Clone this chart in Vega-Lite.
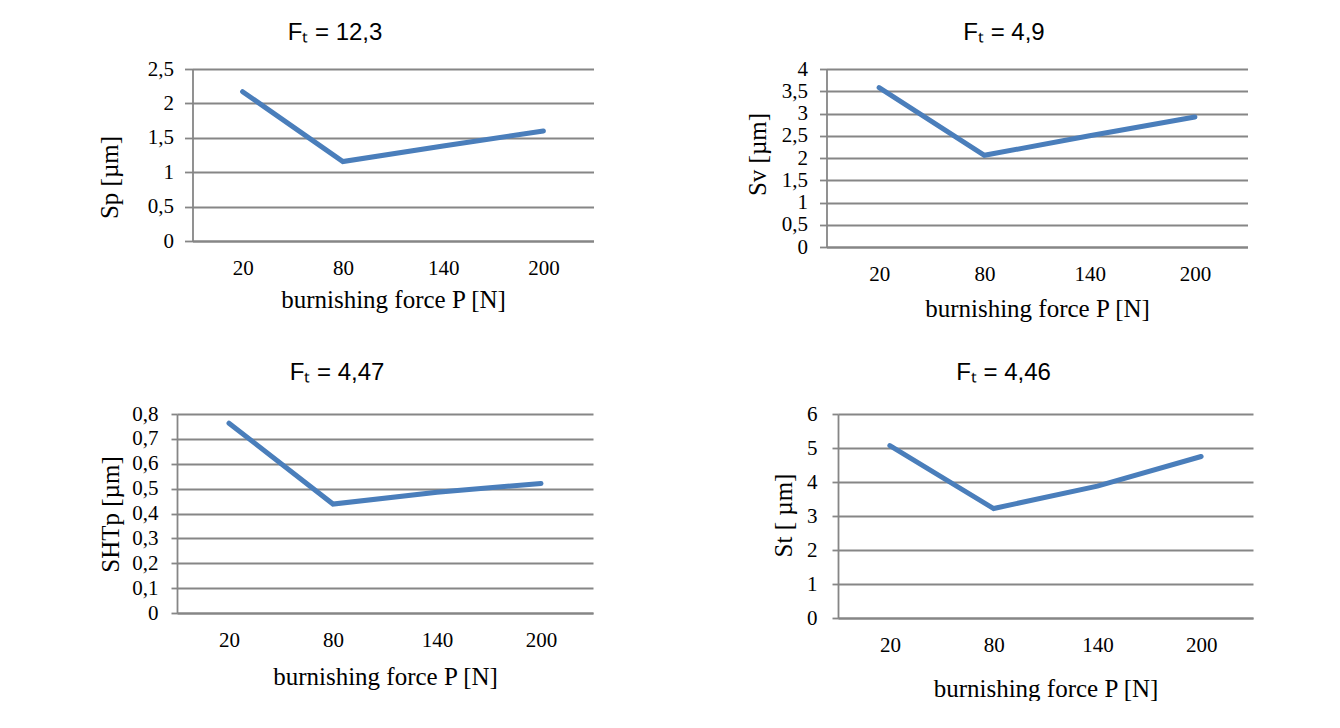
{
  "$schema": "https://vega.github.io/schema/vega-lite/v6.json",
  "padding": {"left": 65, "top": 21, "right": 0, "bottom": 0},
  "background": "white",
  "data": {"values": [
    {"panel": "Sp", "P": 20, "v": 2.17},
    {"panel": "Sp", "P": 80, "v": 1.155},
    {"panel": "Sp", "P": 140, "v": 1.38},
    {"panel": "Sp", "P": 200, "v": 1.6},
    {"panel": "Sv", "P": 20, "v": 3.58},
    {"panel": "Sv", "P": 80, "v": 2.06},
    {"panel": "Sv", "P": 140, "v": 2.5},
    {"panel": "Sv", "P": 200, "v": 2.92},
    {"panel": "SHTp", "P": 20, "v": 0.763},
    {"panel": "SHTp", "P": 80, "v": 0.438},
    {"panel": "SHTp", "P": 140, "v": 0.485},
    {"panel": "SHTp", "P": 200, "v": 0.521},
    {"panel": "St", "P": 20, "v": 5.07},
    {"panel": "St", "P": 80, "v": 3.22},
    {"panel": "St", "P": 140, "v": 3.88},
    {"panel": "St", "P": 200, "v": 4.75}
  ]},
  "spacing": 40,
  "center": true,
  "vconcat": [
    {
      "spacing": 20,
      "hconcat": [
        {
          "width": 401, "height": 172,
          "title": {"text": "Fₜ = 12,3", "dx": -58, "offset": 13, "fontSize": 24},
          "transform": [{"filter": "datum.panel === 'Sp'"}],
          "mark": {"type": "line", "color": "#4A7EBB", "strokeWidth": 5, "strokeCap": "round"},
          "encoding": {
            "x": {"field": "P", "type": "ordinal", "scale": {"type": "point", "padding": 0.5, "domain": [20, 80, 140, 200]},
                  "axis": {"title": "burnishing force P [N]", "labelPadding": 16, "titlePadding": 9}},
            "y": {"field": "v", "type": "quantitative", "scale": {"domain": [0, 2.5], "nice": false},
                  "axis": {"title": "Sp [µm]", "values": [0, 0.5, 1, 1.5, 2, 2.5], "tickSize": 8, "labelPadding": 11, "minExtent": 100, "titleX": -70, "titleY": 108}}
          }
        },
        {
          "width": 421, "height": 178,
          "title": {"text": "Fₜ = 4,9", "dx": -33, "offset": 13, "fontSize": 24},
          "transform": [{"filter": "datum.panel === 'Sv'"}],
          "mark": {"type": "line", "color": "#4A7EBB", "strokeWidth": 5, "strokeCap": "round"},
          "encoding": {
            "x": {"field": "P", "type": "ordinal", "scale": {"type": "point", "padding": 0.5, "domain": [20, 80, 140, 200]},
                  "axis": {"title": "burnishing force P [N]", "labelPadding": 16, "titlePadding": 12}},
            "y": {"field": "v", "type": "quantitative", "scale": {"domain": [0, 4], "nice": false},
                  "axis": {"title": "Sv [µm]", "values": [0, 0.5, 1, 1.5, 2, 2.5, 3, 3.5, 4], "tickSize": 7, "labelPadding": 12, "minExtent": 213, "titleX": -56, "titleY": 85}}
          }
        }
      ]
    },
    {
      "spacing": 20,
      "hconcat": [
        {
          "width": 416, "height": 199,
          "title": {"text": "Fₜ = 4,47", "dx": -48, "offset": 18, "fontSize": 24},
          "transform": [{"filter": "datum.panel === 'SHTp'"}],
          "mark": {"type": "line", "color": "#4A7EBB", "strokeWidth": 5, "strokeCap": "round"},
          "encoding": {
            "x": {"field": "P", "type": "ordinal", "scale": {"type": "point", "padding": 0.5, "domain": [20, 80, 140, 200]},
                  "axis": {"title": "burnishing force P [N]", "labelPadding": 16, "titlePadding": 14}},
            "y": {"field": "v", "type": "quantitative", "scale": {"domain": [0, 0.8], "nice": false},
                  "axis": {"title": "SHTp [µm]", "values": [0, 0.1, 0.2, 0.3, 0.4, 0.5, 0.6, 0.7, 0.8], "tickSize": 6, "labelPadding": 13, "minExtent": 112, "titleX": -54, "titleY": 100}}
          }
        },
        {
          "width": 415, "height": 204,
          "title": {"text": "Fₜ = 4,46", "dx": -42, "offset": 18, "fontSize": 24},
          "transform": [{"filter": "datum.panel === 'St'"}],
          "resolve": {"axis": {"y": "independent"}},
          "layer": [
            {
              "mark": {"type": "line", "color": "#4A7EBB", "strokeWidth": 5, "strokeCap": "round"},
              "encoding": {
                "x": {"field": "P", "type": "ordinal", "scale": {"type": "point", "padding": 0.5, "domain": [20, 80, 140, 200]},
                      "axis": {"title": "burnishing force P [N]", "labelPadding": 16, "titlePadding": 21}},
                "y": {"field": "v", "type": "quantitative", "scale": {"domain": [0, 6], "nice": false},
                      "axis": {"title": "St [ µm]", "orient": "left", "values": [0, 1, 2, 3, 4, 5, 6], "tickSize": 6, "labelPadding": 15, "minExtent": 225, "titleX": -42, "titleY": 101}}
              }
            },
            {
              "mark": {"type": "line", "strokeOpacity": 0},
              "encoding": {
                "x": {"field": "P", "type": "ordinal", "scale": {"type": "point", "padding": 0.5, "domain": [20, 80, 140, 200]},
                      "axis": {"title": "burnishing force P [N]", "labelPadding": 16, "titlePadding": 21}},
                "y": {"field": "v", "type": "quantitative", "scale": {"domain": [0, 6], "nice": false},
                      "axis": {"orient": "right", "title": null, "labels": false, "ticks": false, "domain": false, "grid": false, "minExtent": 10}}
              }
            }
          ]
        }
      ]
    }
  ],
  "config": {
    "view": {"stroke": null},
    "axis": {
      "labelFont": "Liberation Serif", "titleFont": "Liberation Serif",
      "labelColor": "black", "titleColor": "black",
      "labelFontSize": 21, "titleFontSize": 25, "titleFontWeight": "normal",
      "gridColor": "#868686", "gridWidth": 1.8, "gridOpacity": 1,
      "domainColor": "#868686", "domainWidth": 1.8,
      "tickColor": "#868686", "tickWidth": 1.8,
      "labelOverlap": false, "labelFlush": false,
      "labelExpr": "replace(format(datum.value, ''), '.', ',')"
    },
    "axisX": {"grid": false, "ticks": false, "tickSize": 0, "labelFontSize": 21, "labelAngle": 0, "labelExpr": "datum.label"},
    "title": {"font": "Liberation Sans", "fontSize": 24, "fontWeight": "normal", "color": "black", "anchor": "middle", "frame": "group"}
  }
}
